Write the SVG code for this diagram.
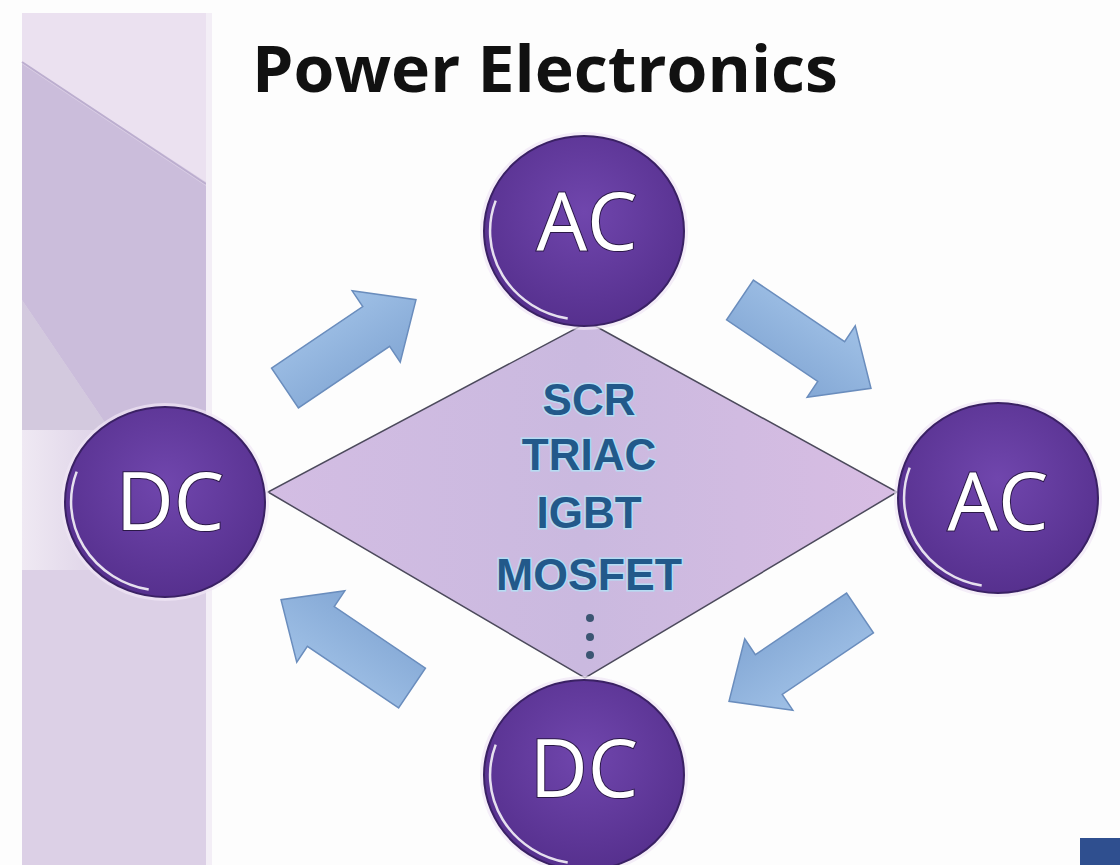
<svg xmlns="http://www.w3.org/2000/svg" xmlns:xlink="http://www.w3.org/1999/xlink" width="1120" height="865" viewBox="0 0 1120 865">
<style>
.title{font-family:"Open Sans","Liberation Sans",sans-serif;font-weight:bold;font-size:64px;fill:#111}
.node-label{font-family:"Open Sans","Liberation Sans",sans-serif;font-size:80px;fill:#fff;stroke:#2a1846;stroke-width:2;paint-order:stroke;text-anchor:middle}
.dev{font-family:"Liberation Sans",Arial,sans-serif;font-weight:bold;font-size:44px;fill:#22598a;stroke:#b6dcf3;stroke-width:3;paint-order:stroke;text-anchor:middle}
.arrow{fill:url(#arrowGrad);stroke:#6a8dbd;stroke-width:1.5}
</style>
<defs>
<radialGradient id="discGrad" cx="0.5" cy="0.4" r="0.6">
<stop offset="0" stop-color="#7046ad"/>
<stop offset="1" stop-color="#56308e"/>
</radialGradient>
<linearGradient id="diaGrad" x1="0" y1="0" x2="1" y2="0">
<stop offset="0" stop-color="#d3bde3"/>
<stop offset="0.5" stop-color="#cab9df"/>
<stop offset="1" stop-color="#d8bde3"/>
</linearGradient>
<linearGradient id="arrowGrad" x1="0" y1="0" x2="0" y2="1">
<stop offset="0" stop-color="#9fc0e6"/>
<stop offset="1" stop-color="#84a8d5"/>
</linearGradient>
<linearGradient id="glow" x1="0" y1="0" x2="1" y2="0">
<stop offset="0" stop-color="#efe9f3"/>
<stop offset="1" stop-color="#dcd0e6"/>
</linearGradient>
<g id="disc">
<ellipse cx="0" cy="0" rx="104" ry="99" fill="#efe6f5" opacity="0.7"/>
<ellipse cx="0" cy="0" rx="100" ry="95" fill="url(#discGrad)" stroke="#3a2164" stroke-width="2"/>
<path d="M -88.3 -30.4 A 94 89 0 0 0 -16.3 87.6" fill="none" stroke="#ffffff" stroke-width="2.5" opacity="0.85"/>
</g>
<path id="arrowShape" d="M 0 -24 L 110 -24 L 110 -43 L 158 0 L 110 43 L 110 24 L 0 24 Z"/>
</defs>

<rect x="0" y="0" width="1120" height="865" fill="#fdfdfd"/>

<g id="side-panel">
<rect x="22" y="13" width="184" height="852" fill="#dcd0e6"/>
<polygon points="22,13 206,13 206,182 22,62" fill="#ebe1f0"/>
<polygon points="22,64 206,186 206,430 110,430 22,300" fill="#cbbddb"/>
<polygon points="22,300 110,430 22,430" fill="#d3c9de"/>
<rect x="22" y="430" width="90" height="140" fill="url(#glow)"/>
<line x1="22" y1="62" x2="206" y2="184" stroke="#bcaecf" stroke-width="2"/>
<rect x="206" y="13" width="6" height="852" fill="#f3eef6"/>
</g>

<g id="title">
<text class="title" x="252" y="92" textLength="586" lengthAdjust="spacingAndGlyphs">Power Electronics</text>
</g>

<g id="diamond">
<polygon points="588,322 897,492 585,678 268,492" fill="url(#diaGrad)" stroke="#4c4a5c" stroke-width="1.5"/>
<text class="dev" x="589" y="415">SCR</text>
<text class="dev" x="589" y="470">TRIAC</text>
<text class="dev" x="589" y="528">IGBT</text>
<text class="dev" x="589" y="590" textLength="186" lengthAdjust="spacingAndGlyphs">MOSFET</text>
<circle cx="590" cy="618" r="4" fill="#3b5572"/>
<circle cx="590" cy="637" r="4" fill="#3b5572"/>
<circle cx="590" cy="655" r="4" fill="#3b5572"/>
</g>

<g id="connectors">
<use xlink:href="#arrowShape" class="arrow" transform="translate(285,388) rotate(-34)"/>
<use xlink:href="#arrowShape" class="arrow" transform="translate(740,300) rotate(34)"/>
<use xlink:href="#arrowShape" class="arrow" transform="translate(860,613) rotate(146)"/>
<use xlink:href="#arrowShape" class="arrow" transform="translate(412,688) rotate(214)"/>
</g>

<g id="node-ac-top">
<use xlink:href="#disc" x="584" y="231"/>
<text class="node-label" x="587" y="250">AC</text>
</g>
<g id="node-dc-left">
<use xlink:href="#disc" x="165" y="502"/>
<text class="node-label" x="170" y="530">DC</text>
</g>
<g id="node-ac-right">
<use xlink:href="#disc" x="998" y="498"/>
<text class="node-label" x="998" y="530">AC</text>
</g>
<g id="node-dc-bottom">
<use xlink:href="#disc" x="584" y="775"/>
<text class="node-label" x="584" y="797">DC</text>
</g>

<g id="corner-badge">
<rect x="1080" y="838" width="40" height="27" fill="#2f4f8f"/>
</g>
</svg>
